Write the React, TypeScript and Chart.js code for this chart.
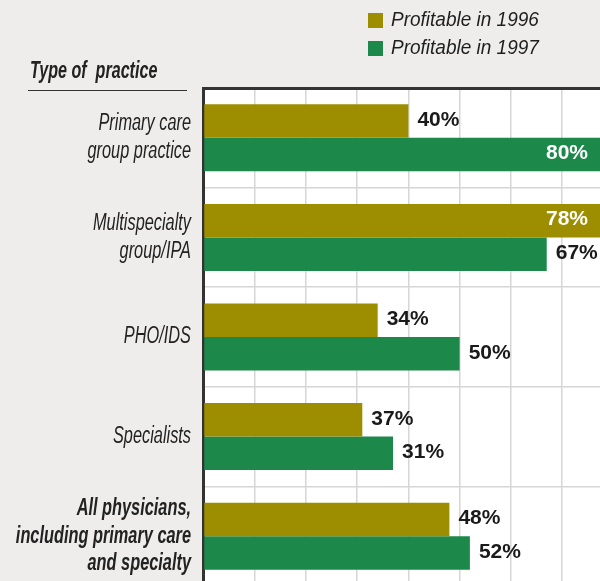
import React, { useEffect, useRef } from "react";
import { Chart, registerables } from "chart.js";

Chart.register(...registerables);

const categories: string[][] = [
  ["Primary care", "group practice"],
  ["Multispecialty", "group/IPA"],
  ["PHO/IDS"],
  ["Specialists"],
  ["All physicians,", "including primary care", "and specialty"],
];
const seriesNames = ["Profitable in 1996", "Profitable in 1997"];
const values1996 = [40, 78, 34, 31, 48];
const values1997 = [80, 67, 50, 37, 52];
const labels1996 = ["40%", "78%", "34%", "37%", "48%"];
const labels1997 = ["80%", "67%", "50%", "31%", "52%"];
const axisTitle = "Type of  practice";

const COLOR_1996 = "#9C8E00";
const COLOR_1997 = "#1C884A";
const FONT = '"Liberation Sans", Arial, sans-serif';

function condensedText(ctx: any, text: string, x: number, y: number, align: string, squeeze: number) {
  ctx.save();
  ctx.translate(x, y);
  ctx.scale(squeeze, 1);
  ctx.textAlign = align;
  ctx.fillText(text, 0, 0);
  ctx.restore();
}

const decorPlugin = {
  id: "decor",
  beforeDraw(chart: any) {
    const { ctx, chartArea } = chart;
    ctx.save();
    ctx.fillStyle = "#EEEDEB";
    ctx.fillRect(0, 0, chart.width, chart.height);
    ctx.fillStyle = "#FFFFFF";
    ctx.fillRect(chartArea.left, chartArea.top, chartArea.right - chartArea.left, chartArea.bottom - chartArea.top);
    ctx.restore();
  },
  afterDraw(chart: any) {
    const { ctx, chartArea } = chart;
    ctx.save();
    ctx.textBaseline = "middle";
    // legend
    const colors = [COLOR_1996, COLOR_1997];
    const legendY = [13, 41];
    ctx.font = `italic 20px ${FONT}`;
    seriesNames.forEach((name, i) => {
      ctx.fillStyle = colors[i];
      ctx.fillRect(368, legendY[i], 15, 15);
      ctx.fillStyle = "#1E1E1E";
      condensedText(ctx, name, 391, legendY[i] + 7.5, "left", 0.95);
    });
    // axis title
    ctx.font = `italic bold 23px ${FONT}`;
    ctx.fillStyle = "#222222";
    condensedText(ctx, axisTitle, 30, 72, "left", 0.7);
    ctx.strokeStyle = "#333333";
    ctx.lineWidth = 1;
    ctx.beginPath();
    ctx.moveTo(28, 90.5);
    ctx.lineTo(187, 90.5);
    ctx.stroke();
    // category labels
    const yScale = chart.scales.y;
    categories.forEach((lines, i) => {
      const cy = yScale.getPixelForValue(i);
      const lh = 27.5;
      ctx.font = `italic ${i === 4 ? "bold " : ""}23px ${FONT}`;
      ctx.fillStyle = "#222222";
      const start = cy - ((lines.length - 1) * lh) / 2;
      lines.forEach((line, j) => {
        condensedText(ctx, line, 191, start + j * lh, "right", 0.71);
      });
    });
    // value labels
    ctx.font = `bold 21px ${FONT}`;
    const allLabels = [labels1996, labels1997];
    chart.data.datasets.forEach((ds: any, di: number) => {
      const meta = chart.getDatasetMeta(di);
      meta.data.forEach((bar: any, i: number) => {
        const text = allLabels[di][i];
        const w = ctx.measureText(text).width;
        const endX = bar.x;
        const y = bar.y - 1;
        if (endX + 9 + w > chartArea.right) {
          ctx.fillStyle = "#FFFFFF";
          ctx.textAlign = "right";
          ctx.fillText(text, Math.min(endX, chartArea.right) - 12, y);
        } else {
          ctx.fillStyle = "#1A1A1A";
          ctx.textAlign = "left";
          ctx.fillText(text, endX + 9, y);
        }
      });
    });
    ctx.restore();
  },
};

export default function App() {
  const canvasRef = useRef<HTMLCanvasElement | null>(null);

  useEffect(() => {
    if (!canvasRef.current) return;
    const chart = new Chart(canvasRef.current, {
      type: "bar",
      data: {
        labels: categories,
        datasets: [
          {
            label: seriesNames[0],
            data: values1996,
            backgroundColor: COLOR_1996,
            categoryPercentage: 0.673,
            barPercentage: 1,
          },
          {
            label: seriesNames[1],
            data: values1997,
            backgroundColor: COLOR_1997,
            categoryPercentage: 0.673,
            barPercentage: 1,
          },
        ],
      },
      options: {
        indexAxis: "y",
        responsive: false,
        animation: false,
        layout: { padding: { top: 88, left: 0, right: 0, bottom: 0 } },
        plugins: {
          legend: { display: false },
          tooltip: { enabled: false },
        },
        scales: {
          x: {
            position: "top",
            min: 0,
            max: 77.4,
            ticks: { display: false, stepSize: 10, includeBounds: false },
            grid: { color: "#D6D6D6", lineWidth: 1.5, drawTicks: false },
            border: { display: true, color: "#333333", width: 3 },
            afterFit: (scale: any) => {
              scale.height = 0;
              scale.paddingLeft = 0;
              scale.paddingRight = 0;
            },
          },
          y: {
            position: "left",
            ticks: { display: false },
            grid: { color: "#D6D6D6", lineWidth: 1.5, drawTicks: false, offset: true },
            border: { display: true, color: "#333333", width: 3 },
            afterFit: (scale: any) => {
              scale.width = 203.5;
              scale.paddingTop = 0;
              scale.paddingBottom = 0;
            },
          },
        },
      },
      plugins: [decorPlugin],
    } as any);
    return () => chart.destroy();
  }, []);

  return (
    <div
      style={{
        position: "fixed",
        left: 0,
        top: 0,
        width: 600,
        height: 581,
        overflow: "hidden",
        background: "#EEEDEB",
      }}
    >
      <canvas ref={canvasRef} width={600} height={586} style={{ display: "block" }} />
    </div>
  );
}
